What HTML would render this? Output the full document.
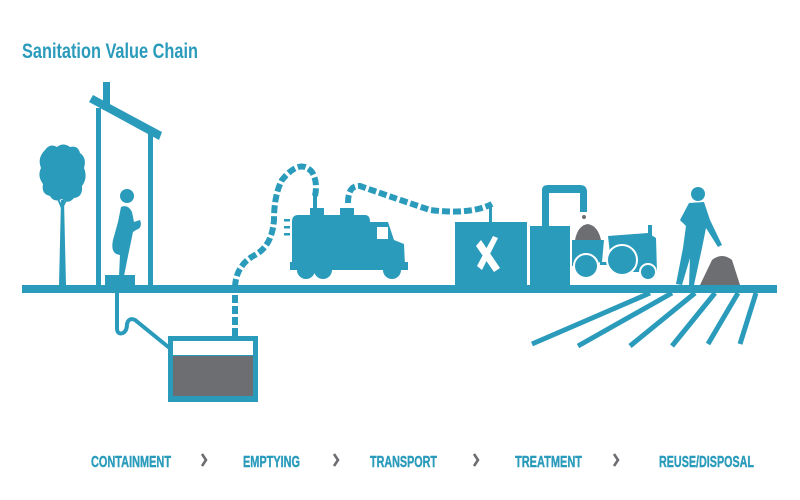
<!DOCTYPE html>
<html><head><meta charset="utf-8"><style>
html,body{margin:0;padding:0;background:#fff;width:800px;height:500px;overflow:hidden}
svg{display:block}
</style></head><body>
<svg width="800" height="500" viewBox="0 0 800 500" xmlns="http://www.w3.org/2000/svg">
<g fill="#2a9bbb" stroke="none">
<text x="22" y="58" font-family="Liberation Sans, sans-serif" font-weight="bold" font-size="21" textLength="176" lengthAdjust="spacingAndGlyphs">Sanitation Value Chain</text>
<!-- ground -->
<rect x="22" y="285" width="755" height="8"/>
<!-- tree -->
<path d="M59 285 L61 200 L64 200 L66 285 Z"/>
<path d="M45 150 Q50 143 57 147 Q63 142 70 147 Q78 145 80 153 Q87 158 84 168 Q88 178 82 186 Q83 197 74 198 Q68 205 62 199 Q54 203 50 196 Q41 194 43 184 Q37 176 41 168 Q37 158 45 150 Z"/>
<path d="M55 192 L62 208 L70 192" stroke="#2a9bbb" stroke-width="2" fill="none"/>
<!-- house -->
<rect x="96" y="108" width="5" height="177"/>
<rect x="148" y="134" width="5" height="151"/>
<rect x="103" y="82" width="7" height="28"/>
<path d="M89 102 L93 95 L162 132 L159 140 Z"/>
<!-- person -->
<circle cx="127" cy="196" r="7"/>
<path d="M121 207 Q128 204 132 212 L134 222 L140 220 Q143 228 136 230 L133 232 L128 256 L124 276 L119 276 L120 255 Q110 254 113 240 L118 222 Z"/>
<rect x="105" y="275" width="30" height="10"/>
<!-- pipe -->
<path d="M117 292 L117 328 Q117 335 123 333 Q127 331 127 324 Q129 317 135 320 L172 350" stroke="#2a9bbb" stroke-width="4" fill="none"/>
<!-- tank -->
<rect x="168" y="336" width="90" height="66"/>
<rect x="173" y="341" width="80" height="14" fill="#fff"/>
<rect x="173" y="356" width="80" height="40" fill="#6d6e71"/>
<!-- truck -->
<path d="M292 222 Q292 215 298 215 L365 215 Q370 215 370 222 L370 262 L292 262 Z"/>
<rect x="310" y="208" width="14" height="8"/>
<rect x="340" y="208" width="14" height="8"/>
<rect x="313" y="195" width="4" height="14"/>
<path d="M370 222 L388 222 L394 240 L404 244 L405 266 L370 266 Z"/>
<rect x="377" y="227" width="11" height="12" fill="#fff"/>
<rect x="290" y="262" width="118" height="8"/>
<circle cx="306" cy="270" r="9"/><circle cx="323" cy="270" r="9"/><circle cx="392" cy="270" r="9"/>
<rect x="284" y="219" width="6" height="2.5"/><rect x="284" y="226" width="6" height="2.5"/><rect x="284" y="233" width="6" height="2.5"/>
<!-- treatment -->
<rect x="455" y="222" width="72" height="63"/>
<rect x="489" y="205" width="3" height="18"/>
<rect x="530" y="226" width="40" height="59"/>
<path d="M481 240 L500 268 L494 272 L476 246 Z M498 238 L482 270 L477 266 L493 236 Z" fill="#fff"/>
<path d="M542 228 L542 190 Q542 185 548 185 L580 185 Q587 185 587 192 L587 212 L580 212 L580 193 L549 193 L549 228 Z"/>
<!-- trailer -->
<path d="M575 240 Q578 225 588 224 Q598 226 601 240 Z" fill="#6d6e71"/>
<circle cx="584" cy="217" r="2" fill="#6d6e71"/>
<path d="M572 240 L604 240 L602 262 L572 266 Z"/>
<circle cx="586" cy="266" r="12" fill="#2a9bbb" stroke="#fff" stroke-width="2"/>
<rect x="600" y="262" width="10" height="3"/>
<!-- tractor -->
<path d="M608 236 L648 233 L656 238 L657 272 L612 272 Z"/>
<rect x="648" y="225" width="4" height="12"/>
<circle cx="622" cy="260" r="15" fill="#2a9bbb" stroke="#fff" stroke-width="2"/>
<circle cx="648" cy="272" r="8" fill="#2a9bbb" stroke="#fff" stroke-width="2"/>
<!-- worker -->
<circle cx="698" cy="194" r="7"/>
<path d="M689 203 L704 202 L710 220 L722 245 L718 247 L706 228 L702 248 L694 285 L689 285 L690 258 L682 285 L676 284 L683 248 L686 226 L680 220 Z"/>
<path d="M686 215 L682 222" stroke="#2a9bbb" stroke-width="3"/>
<path d="M700 285 L712 260 Q722 252 732 260 L740 285 Z" fill="#6d6e71"/>
<!-- field lines -->
<g stroke="#2a9bbb" stroke-width="5" stroke-linecap="butt">
<line x1="650" y1="293" x2="532" y2="344"/>
<line x1="672" y1="293" x2="578" y2="346"/>
<line x1="695" y1="293" x2="630" y2="346"/>
<line x1="715" y1="293" x2="672" y2="346"/>
<line x1="738" y1="293" x2="708" y2="344"/>
<line x1="756" y1="293" x2="740" y2="344"/>
</g>
</g>
<!-- hoses -->
<g stroke="#2a9bbb" stroke-width="6" fill="none" stroke-dasharray="8,3">
<path d="M235 336 L235 290"/>
<path d="M235 287 Q236 265 255 255 Q272 246 274 220 Q274 195 282 180 Q300 158 312 172 Q318 182 315 196"/>
<path d="M348 203 Q348 185 360 186 Q400 200 430 210 Q470 215 492 204"/>
</g>
<g font-family="Liberation Sans, sans-serif" font-weight="bold" font-size="16" fill="#2a9bbb" stroke="#2a9bbb" stroke-width="0.4">
<text x="91" y="467" textLength="80" lengthAdjust="spacingAndGlyphs">CONTAINMENT</text>
<text x="243" y="467" textLength="57" lengthAdjust="spacingAndGlyphs">EMPTYING</text>
<text x="370" y="467" textLength="67" lengthAdjust="spacingAndGlyphs">TRANSPORT</text>
<text x="515" y="467" textLength="67" lengthAdjust="spacingAndGlyphs">TREATMENT</text>
<text x="659" y="467" textLength="95" lengthAdjust="spacingAndGlyphs">REUSE/DISPOSAL</text>
</g>
<g stroke="#6d6e71" stroke-width="2.6" fill="none">
<path d="M202 454 L206 460 L202 466"/>
<path d="M334 454 L338 460 L334 466"/>
<path d="M474 454 L478 460 L474 466"/>
<path d="M614 454 L618 460 L614 466"/>
</g>
</svg>
</body></html>
